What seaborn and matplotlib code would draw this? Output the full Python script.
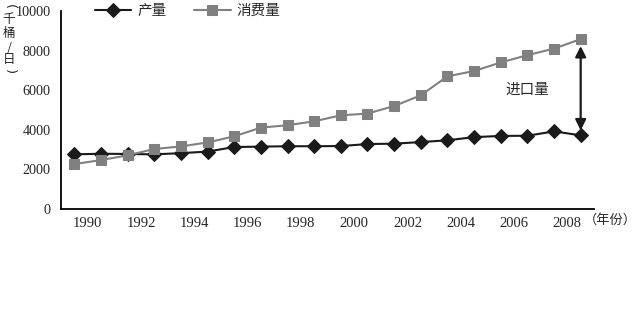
import matplotlib
matplotlib.use("Agg")
import matplotlib.pyplot as plt
import seaborn as sns
import pandas as pd
import numpy as np

# Data (thousand barrels per day)
production = [2760, 2790, 2780, 2760, 2820, 2900, 3130, 3150, 3170, 3170,
              3180, 3280, 3300, 3380, 3470, 3630, 3690, 3700, 3920, 3720]
consumption = [2270, 2470, 2710, 3030, 3160, 3360, 3670, 4110, 4230, 4430,
               4730, 4820, 5200, 5740, 6700, 6970, 7400, 7770, 8100, 8580]
tick_labels = ["1990", "1992", "1994", "1996", "1998",
               "2000", "2002", "2004", "2006", "2008"]
series_names = ["产量", "消费量"]

sns.set_theme(style="white")
plt.rcParams['font.family'] = ['Liberation Serif', 'Noto Sans CJK SC', 'DejaVu Sans']
plt.rcParams['axes.unicode_minus'] = False
CJK = ['Noto Sans CJK SC', 'DejaVu Sans']

df = pd.DataFrame({"idx": np.arange(len(production)),
                   series_names[0]: production,
                   series_names[1]: consumption})

fig = plt.figure(figsize=(6.4, 3.35), dpi=100)
ax = fig.add_axes([61/640, 1-209/335, (594-61)/640, (209-11)/335])

sns.lineplot(data=df, x="idx", y=series_names[0], ax=ax, color="#1a1a1a",
             marker="D", markersize=7.5, markeredgecolor="#1a1a1a",
             linewidth=1.5, label=series_names[0])
sns.lineplot(data=df, x="idx", y=series_names[1], ax=ax, color="#808080",
             marker="s", markersize=7, markeredgecolor="#808080",
             linewidth=1.5, label=series_names[1])

ax.set_xlim(-0.5, len(production) - 0.5)
ax.set_ylim(0, 10000)
ax.set_yticks(np.arange(0, 10001, 2000))
ax.set_yticklabels([str(v) for v in range(0, 10001, 2000)], fontsize=10.2)

# category-style axis: tick marks between pairs, labels centered on pairs
ax.set_xticks(np.arange(-0.5, len(production), 2))
ax.set_xticklabels([])
ax.set_xticks(np.arange(0.5, len(production), 2), minor=True)
ax.set_xticklabels(tick_labels, minor=True, fontsize=10.5)
ax.tick_params(axis="x", which="major", direction="in", length=5.5, width=1.2, color="black")
ax.tick_params(axis="x", which="minor", length=0, pad=6)
ax.tick_params(axis="y", direction="inout", length=9, width=1.2, color="black", pad=3)

for s in ["top", "right"]:
    ax.spines[s].set_visible(False)
for s in ["left", "bottom"]:
    ax.spines[s].set_color("black")
    ax.spines[s].set_linewidth(1.3)

ax.set_xlabel("")
ax.set_ylabel("")

# legend
ax.legend_.remove()
handles, labels = ax.get_legend_handles_labels()
fig.legend(handles, labels, loc="center", bbox_to_anchor=(0.293, 0.968), ncol=2,
           frameon=False, prop={'family': CJK, 'size': 10.5}, handlelength=2.5,
           columnspacing=1.9, handletextpad=0.4)

# import arrow
last = len(production) - 1
ax.annotate("", xy=(last, consumption[-1] - 350), xytext=(last, production[-1] + 250),
            arrowprops=dict(arrowstyle="<|-|>", color="#1a1a1a", lw=1.6,
                            mutation_scale=16, shrinkA=0, shrinkB=0))
ax.text(last - 2.0, 6000, "进口量", fontsize=10.5, ha="center", va="center", family=CJK)

# vertical y-axis unit label: （千桶/日）
xl = 9/640
fig.text(xl, 1-7/335, "(", fontsize=9.5, ha="center", va="center", rotation=-90,
         family=['DejaVu Sans'])
for ch, yp in [("千", 19), ("桶", 34), ("/", 48), ("日", 60)]:
    fig.text(xl, 1-yp/335, ch, fontsize=9, ha="center", va="center", family=CJK)
fig.text(xl, 1-72/335, ")", fontsize=9.5, ha="center", va="center", rotation=-90,
         family=['DejaVu Sans'])

fig.text(584/640, 1-220/335, "（年份）", fontsize=9.5, ha="left", va="center", family=CJK)

fig.savefig("out.png", dpi=100, facecolor="white")
